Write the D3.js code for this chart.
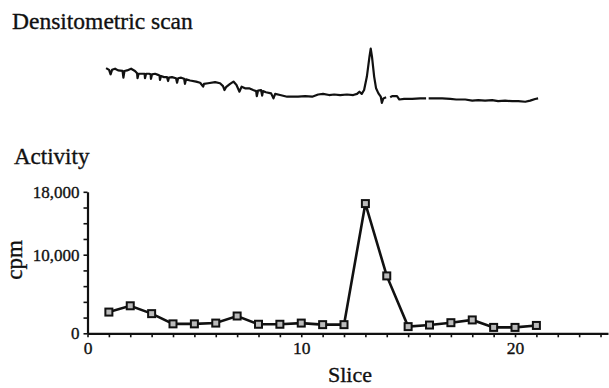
<!DOCTYPE html>
<html>
<head>
<meta charset="utf-8">
<script src="https://cdn.jsdelivr.net/npm/d3@7"></script>
<style>
  html, body { margin: 0; padding: 0; background: #fff; }
  svg { display: block; }
  text { font-family: "Liberation Serif", "Times New Roman", serif; fill: #111; stroke: #111; stroke-width: 0.35px; }
</style>
</head>
<body>
<svg id="chart" width="609" height="388"></svg>
<script>
// ---- Data ----
const slices = [1,2,3,4,5,6,7,8,9,10,11,12,13,14,15,16,17,18,19,20,21];
const cpm    = [2700,3500,2500,1200,1200,1300,2200,1150,1150,1300,1100,1100,16500,7300,850,1050,1350,1700,750,750,1000];

const xTicks = [0,1,2,3,4,5,6,7,8,9,10,11,12,13,14,15,16,17,18,19,20,21,22,23,24];
const xTickLabels = ["0","10","20"];
const yTicks = [0,2000,4000,6000,8000,10000,12000,14000,16000,18000];
const yTickLabels = ["0","10,000","18,000"];

// densitometric scan: position (in slice units) and relative absorbance (null = gap)
const scanPos = [0.87,1.01,1.08,1.15,1.29,1.43,1.64,1.68,1.73,1.85,2.04,2.22,2.32,2.34,2.39,2.55,2.67,2.69,2.74,2.88,2.95,2.97,3.02,3.16,3.30,3.37,3.39,3.44,3.58,3.72,3.77,3.81,3.95,4.14,4.19,4.24,4.38,4.52,4.56,4.61,4.80,5.08,5.27,5.41,5.45,
  5.64,5.97,6.20,6.34,6.41,6.48,6.67,6.83,6.97,7.11,7.21,7.37,7.56,7.75,7.89,7.92,7.98,8.12,8.17,8.21,8.35,8.59,8.70,8.78,9.01,9.34,9.66,9.85,10.18,10.51,
  10.79,11.02,11.30,11.54,11.82,12.14,12.43,12.61,12.72,12.83,12.94,13.07,13.19,13.25,13.31,13.41,13.50,13.61,13.72,13.77,13.84,13.97,14.06,
  14.16,14.25,14.48,14.59,14.81,15.19,15.56,15.84,15.90,
  15.96,16.59,16.97,17.25,17.67,18.00,18.28,18.60,18.93,19.21,19.54,19.87,20.15,20.48,20.71,20.94,21.08];
const scanVal = [0.64,0.61,0.53,0.61,0.63,0.60,0.59,0.47,0.59,0.60,0.63,0.59,0.55,0.46,0.54,0.54,0.54,0.46,0.54,0.54,0.53,0.45,0.53,0.54,0.52,0.51,0.43,0.50,0.48,0.48,0.41,0.47,0.48,0.46,0.38,0.46,0.47,0.45,0.36,0.44,0.42,0.40,0.38,0.31,0.36,
  0.37,0.39,0.37,0.32,0.25,0.30,0.36,0.40,0.34,0.22,0.31,0.28,0.28,0.25,0.23,0.14,0.24,0.25,0.15,0.23,0.21,0.19,0.10,0.18,0.16,0.13,0.13,0.13,0.14,0.13,
  0.17,0.18,0.16,0.17,0.16,0.17,0.16,0.18,0.22,0.18,0.25,0.49,0.84,0.99,0.84,0.49,0.28,0.19,0.13,0.02,0.10,0.12,null,
  0.12,0.14,0.14,0.08,0.09,0.09,0.10,0.10,null,
  0.10,0.10,0.09,0.08,0.08,0.06,0.07,0.06,0.07,0.05,0.06,0.05,0.05,0.04,0.06,0.09,0.10];

// ---- Layout ----
const svg = d3.select("#chart");
const x = d3.scaleLinear().domain([0, 24.35]).range([87.5, 608]);
const y = d3.scaleLinear().domain([0, 18000]).range([333.3, 191.8]);
const yScan = d3.scaleLinear().domain([0, 1]).range([104, 48]);

// Titles
svg.append("text").attr("x", 12).attr("y", 29).attr("font-size", 23.5).text("Densitometric scan");
svg.append("text").attr("x", 14).attr("y", 164).attr("font-size", 23).text("Activity");

// Scan trace
const scan = scanPos.map((p, i) => ({p, v: scanVal[i]}));
svg.append("path")
  .datum(scan)
  .attr("fill", "none")
  .attr("stroke", "#111")
  .attr("stroke-width", 2.2)
  .attr("stroke-linejoin", "round")
  .attr("d", d3.line().defined(d => d.v !== null).x(d => x(d.p)).y(d => yScan(d.v)));

// X axis
const xAxis = d3.axisBottom(x).tickValues(xTicks).tickSize(4).tickSizeOuter(0)
  .tickFormat(d => xTickLabels.includes(String(d)) ? String(d) : "");
const gx = svg.append("g").attr("transform", `translate(0,${y(0)})`).call(xAxis);
gx.select(".domain").attr("stroke", "#111").attr("stroke-width", 2.2);
gx.selectAll(".tick line").attr("stroke", "#111").attr("stroke-width", 1.6);
gx.selectAll(".tick text").attr("font-family", "Liberation Serif, serif").attr("font-size", 17.5).attr("fill", "#111").attr("dy", "0.85em").attr("y", 6);

// Y axis
const fmt = d3.format(",");
const yAxis = d3.axisLeft(y).tickValues(yTicks).tickSize(4).tickSizeOuter(0)
  .tickFormat(d => yTickLabels.includes(fmt(d)) ? fmt(d) : "");
const gy = svg.append("g").attr("transform", `translate(${x(0)},0)`).call(yAxis);
gy.select(".domain").attr("stroke", "#111").attr("stroke-width", 2.2);
gy.selectAll(".tick line").attr("stroke", "#111").attr("stroke-width", 1.6);
gy.selectAll(".tick text").attr("font-family", "Liberation Serif, serif").attr("font-size", 17).attr("fill", "#111").attr("x", -8);

// Axis titles
svg.append("text").attr("transform", "translate(22,260) rotate(-90)")
  .attr("text-anchor", "middle").attr("font-size", 23).text("cpm");
svg.append("text").attr("x", 350).attr("y", 382)
  .attr("text-anchor", "middle").attr("font-size", 22).text("Slice");

// Activity line + markers
const pts = slices.map((s, i) => ({s, c: cpm[i]}));
svg.append("path")
  .datum(pts)
  .attr("fill", "none")
  .attr("stroke", "#111")
  .attr("stroke-width", 2.6)
  .attr("d", d3.line().x(d => x(d.s)).y(d => y(d.c)));
svg.selectAll("rect.mk")
  .data(pts).enter().append("rect")
  .attr("class", "mk")
  .attr("x", d => x(d.s) - 3.5).attr("y", d => y(d.c) - 3.5)
  .attr("width", 7).attr("height", 7)
  .attr("fill", "#bbb").attr("stroke", "#111").attr("stroke-width", 2);
</script>
</body>
</html>
